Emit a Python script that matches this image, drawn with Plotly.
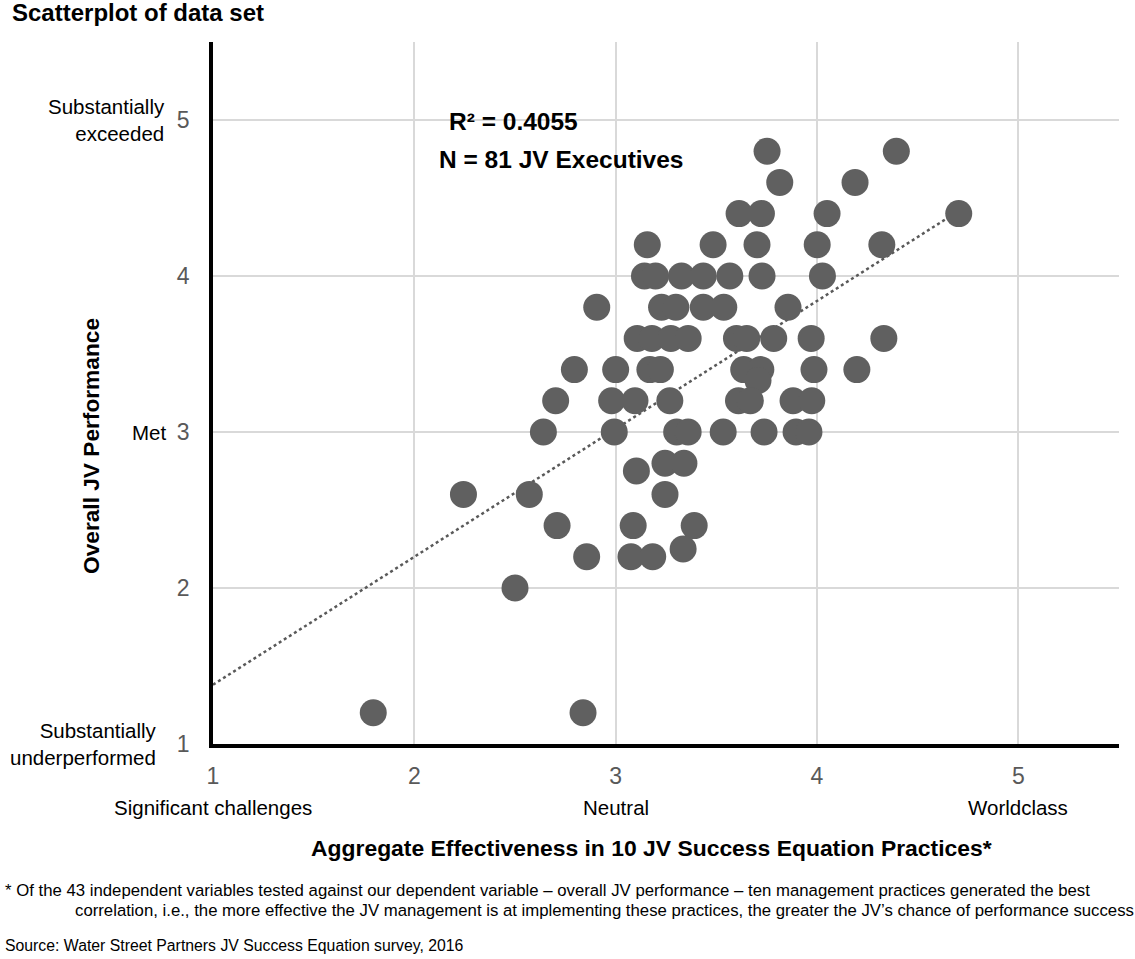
import plotly.graph_objects as go

# ---- data ----
x_vals = [
    3.752, 4.394,
    3.815, 4.189,
    3.613, 3.724, 4.050, 4.704,
    3.157, 3.484, 3.702, 4.001, 4.322,
    3.143, 3.198, 3.327, 3.435, 3.567, 3.727, 4.027,
    2.906, 3.228, 3.299, 3.435, 3.537, 3.856,
    3.107, 3.180, 3.274, 3.360, 3.600, 3.651, 3.785, 3.971, 4.332,
    2.795, 3.000, 3.170, 3.222, 3.636, 3.721, 3.985, 4.198,
    3.707,
    2.702, 2.980, 3.096, 3.269, 3.610, 3.669, 3.881, 3.974,
    2.641, 2.993, 3.303, 3.360, 3.534, 3.737, 3.896, 3.960,
    3.245, 3.339,
    3.103,
    2.244, 2.571, 3.245,
    2.709, 3.087, 3.390,
    3.335,
    2.856, 3.076, 3.184,
    2.500,
    1.796, 2.838,
]
y_vals = (
    [4.8] * 2 + [4.6] * 2 + [4.4] * 4 + [4.2] * 5 + [4.0] * 7 + [3.8] * 6
    + [3.6] * 9 + [3.4] * 8 + [3.33] + [3.2] * 8 + [3.0] * 8 + [2.8] * 2
    + [2.75] + [2.6] * 3 + [2.4] * 3 + [2.25] + [2.2] * 3 + [2.0] + [1.2] * 2
)

trend_slope = 0.82
trend_intercept = 0.56
trend_x = [1.0, 4.65]
trend_y = [trend_intercept + trend_slope * v for v in trend_x]

x_ticks = [1, 2, 3, 4, 5]
y_ticks = [1, 2, 3, 4, 5]
x_cat_labels = {1: "Significant challenges", 3: "Neutral", 5: "Worldclass"}
y_cat_labels = {5: "Substantially<br>exceeded", 3: "Met", 1: "Substantially<br>underperformed"}

title_text = "Scatterplot of data set"
r2_text = "R² = 0.4055"
n_text = "N = 81 JV Executives"
x_title = "Aggregate Effectiveness in 10 JV Success Equation Practices*"
y_title = "Overall JV Performance"
foot1 = ("* Of the 43 independent variables tested against our dependent variable \u2013 "
         "overall JV performance \u2013 ten management practices generated the best")
foot2 = ("correlation, i.e., the more effective the JV management is at implementing these "
         "practices, the greater the JV\u2019s chance of performance success")
source_text = "Source: Water Street Partners JV Success Equation survey, 2016"

FONT = "Arial, Liberation Sans, sans-serif"
L, R, T, B = 213, 16, 42, 215
PW = 1135 - L - R


def px_to_paper_x(px):
    return (px - L) / PW


fig = go.Figure()
fig.add_trace(go.Scatter(
    x=trend_x, y=trend_y, mode="lines",
    line=dict(color="#595959", width=2.5, dash="dot"),
    hoverinfo="skip", showlegend=False,
))
fig.add_trace(go.Scatter(
    x=x_vals, y=y_vals, mode="markers",
    marker=dict(size=27, color="#606060", line=dict(width=0)),
    showlegend=False,
))

ann = []
for v, t in x_cat_labels.items():
    ann.append(dict(x=v, xref="x", y=0, yref="paper", yshift=-63, text=t,
                    showarrow=False, xanchor="center", yanchor="middle",
                    font=dict(family=FONT, size=20.5, color="#000000")))
y_label_shift = {5: -46, 3: -45, 1: -54}
for v, t in y_cat_labels.items():
    ann.append(dict(x=0, xref="paper", xshift=y_label_shift[v], y=v, yref="y", text=t,
                    showarrow=False, xanchor="right", yanchor="middle", align="right",
                    font=dict(family=FONT, size=20.5, color="#000000")))

ann += [
    dict(x=px_to_paper_x(10), xref="paper", y=1.0, yref="paper", yshift=30,
         text="<b>" + title_text + "</b>",
         showarrow=False, xanchor="left", yanchor="middle",
         font=dict(family=FONT, size=24, color="#000000")),
    dict(x=2.495, xref="x", y=4.99, yref="y", text="<b>" + r2_text + "</b>",
         showarrow=False, xanchor="center", yanchor="middle",
         font=dict(family=FONT, size=24.5, color="#000000")),
    dict(x=2.73, xref="x", y=4.744, yref="y", text="<b>" + n_text + "</b>",
         showarrow=False, xanchor="center", yanchor="middle",
         font=dict(family=FONT, size=24.5, color="#000000")),
    dict(x=px_to_paper_x(651), xref="paper", y=0, yref="paper", yshift=-104,
         text="<b>" + x_title + "</b>",
         showarrow=False, xanchor="center", yanchor="middle",
         font=dict(family=FONT, size=22.9, color="#000000")),
    dict(x=0, xref="paper", xshift=-122, y=0.4245, yref="paper", text="<b>" + y_title + "</b>",
         showarrow=False, xanchor="center", yanchor="middle", textangle=-90,
         font=dict(family=FONT, size=22.7, color="#000000")),
    dict(x=px_to_paper_x(3), xref="paper", y=0, yref="paper", yshift=-146, text=foot1,
         showarrow=False, xanchor="left", yanchor="middle",
         font=dict(family=FONT, size=16.75, color="#000000")),
    dict(x=px_to_paper_x(73), xref="paper", y=0, yref="paper", yshift=-166, text=foot2,
         showarrow=False, xanchor="left", yanchor="middle",
         font=dict(family=FONT, size=16.75, color="#000000")),
    dict(x=px_to_paper_x(3), xref="paper", y=0, yref="paper", yshift=-201, text=source_text,
         showarrow=False, xanchor="left", yanchor="middle",
         font=dict(family=FONT, size=15.8, color="#000000")),
]

fig.update_layout(
    width=1135, height=959,
    margin=dict(l=L, r=R, t=T, b=B),
    paper_bgcolor="white", plot_bgcolor="white",
    font=dict(family=FONT),
    annotations=ann,
    showlegend=False,
)
fig.update_xaxes(
    range=[1, 5.5], tickvals=x_ticks, ticktext=[str(t) for t in x_ticks],
    showgrid=True, gridcolor="#d9d9d9", gridwidth=1.5, zeroline=False,
    showline=True, linecolor="#000000", linewidth=3.5,
    ticks="outside", ticklen=9, tickcolor="rgba(0,0,0,0)",
    tickfont=dict(family=FONT, size=23, color="#595959"),
)
fig.update_yaxes(
    range=[1, 5.5], tickvals=y_ticks, ticktext=[str(t) for t in y_ticks],
    showgrid=True, gridcolor="#d9d9d9", gridwidth=1.5, zeroline=False,
    showline=True, linecolor="#000000", linewidth=3.5,
    ticks="outside", ticklen=15, tickcolor="rgba(0,0,0,0)",
    tickfont=dict(family=FONT, size=23, color="#595959"),
)

fig.write_html("out.html", config={"displayModeBar": False},
               post_script="document.body.style.margin='0';")
